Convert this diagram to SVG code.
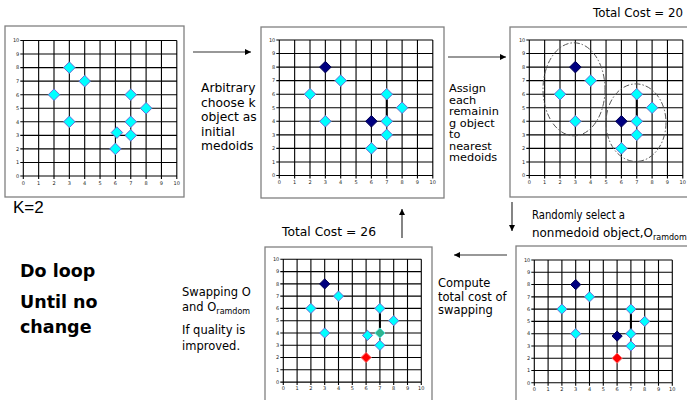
<svg xmlns="http://www.w3.org/2000/svg" xmlns:xlink="http://www.w3.org/1999/xlink" width="687" height="400" viewBox="0 0 687 400">
  <style>
    .frame { fill: #fff; stroke: #808080; stroke-width: 1.3; }
    .grid { fill: none; stroke: #000; stroke-width: 1.1; }
    .tick { font-family: "DejaVu Sans", sans-serif; font-size: 5px; fill: #222; }
    .tick .l { text-anchor: end; }
    .tick .b { text-anchor: middle; }
    .lbl { font-family: "DejaVu Sans", sans-serif; fill: #000; }
    .big { font-family: "DejaVu Sans", sans-serif; font-weight: bold; font-size: 17.5px; fill: #000; }
    .cy { fill: #00ffff; stroke: #6b6bd6; stroke-width: 1; }
    .nv { fill: #000080; stroke: #000050; stroke-width: 1; }
    .rd { fill: #ff0000; stroke: #ff7070; stroke-width: 1; }
    .tl { fill: #2fb58f; stroke: #5ee0e0; stroke-width: 1; }
    .link { stroke: #000; stroke-width: 2; }
    .clus { fill: none; stroke: #555; stroke-width: 1; stroke-dasharray: 6 2 1.5 2; }
    .flow { fill: none; stroke: #333; stroke-width: 1.2; marker-end: url(#ah); }
  </style>
  <defs>
    <marker id="ah" markerUnits="userSpaceOnUse" markerWidth="7" markerHeight="7" refX="6" refY="3" orient="auto">
      <path d="M0,0L6,3L0,6Z" fill="#000"/>
    </marker>
    <path id="dA" d="M0,-5.8L5.8,0L0,5.8L-5.8,0Z"/>
    <path id="dB" d="M0,-5.1L5.1,0L0,5.1L-5.1,0Z"/>
    <!-- 10x10 chart grid, large panels -->
    <g id="gridA">
      <path class="grid" d="M0,0V135.5M15.35,0V135.5M30.7,0V135.5M46.05,0V135.5M61.4,0V135.5M76.75,0V135.5M92.1,0V135.5M107.45,0V135.5M122.8,0V135.5M138.15,0V135.5M153.5,0V135.5
        M0,0H153.5M0,13.55H153.5M0,27.1H153.5M0,40.65H153.5M0,54.2H153.5M0,67.75H153.5M0,81.3H153.5M0,94.85H153.5M0,108.4H153.5M0,121.95H153.5M0,135.5H153.5
        M-3,0H0M-3,13.55H0M-3,27.1H0M-3,40.65H0M-3,54.2H0M-3,67.75H0M-3,81.3H0M-3,94.85H0M-3,108.4H0M-3,121.95H0M-3,135.5H0
        M0,135.5V138.5M15.35,135.5V138.5M30.7,135.5V138.5M46.05,135.5V138.5M61.4,135.5V138.5M76.75,135.5V138.5M92.1,135.5V138.5M107.45,135.5V138.5M122.8,135.5V138.5M138.15,135.5V138.5M153.5,135.5V138.5"/>
      <g class="tick">
        <text class="l" x="-4" y="1.8">10</text>
        <text class="l" x="-4" y="15.35">9</text>
        <text class="l" x="-4" y="28.9">8</text>
        <text class="l" x="-4" y="42.45">7</text>
        <text class="l" x="-4" y="56">6</text>
        <text class="l" x="-4" y="69.55">5</text>
        <text class="l" x="-4" y="83.1">4</text>
        <text class="l" x="-4" y="96.65">3</text>
        <text class="l" x="-4" y="110.2">2</text>
        <text class="l" x="-4" y="123.75">1</text>
        <text class="l" x="-4" y="137.3">0</text>
        <text class="b" x="0" y="144">0</text>
        <text class="b" x="15.35" y="144">1</text>
        <text class="b" x="30.7" y="144">2</text>
        <text class="b" x="46.05" y="144">3</text>
        <text class="b" x="61.4" y="144">4</text>
        <text class="b" x="76.75" y="144">5</text>
        <text class="b" x="92.1" y="144">6</text>
        <text class="b" x="107.45" y="144">7</text>
        <text class="b" x="122.8" y="144">8</text>
        <text class="b" x="138.15" y="144">9</text>
        <text class="b" x="153.5" y="144">10</text>
      </g>
    </g>
    <!-- 10x10 chart grid, lower panels -->
    <g id="gridB">
      <path class="grid" d="M0,0V122.8M13.8,0V122.8M27.6,0V122.8M41.4,0V122.8M55.2,0V122.8M69,0V122.8M82.8,0V122.8M96.6,0V122.8M110.4,0V122.8M124.2,0V122.8M138,0V122.8
        M0,0H138M0,12.28H138M0,24.56H138M0,36.84H138M0,49.12H138M0,61.4H138M0,73.68H138M0,85.96H138M0,98.24H138M0,110.52H138M0,122.8H138
        M-3,0H0M-3,12.28H0M-3,24.56H0M-3,36.84H0M-3,49.12H0M-3,61.4H0M-3,73.68H0M-3,85.96H0M-3,98.24H0M-3,110.52H0M-3,122.8H0
        M0,122.8V125.8M13.8,122.8V125.8M27.6,122.8V125.8M41.4,122.8V125.8M55.2,122.8V125.8M69,122.8V125.8M82.8,122.8V125.8M96.6,122.8V125.8M110.4,122.8V125.8M124.2,122.8V125.8M138,122.8V125.8"/>
      <g class="tick">
        <text class="l" x="-4" y="1.8">10</text>
        <text class="l" x="-4" y="14.08">9</text>
        <text class="l" x="-4" y="26.36">8</text>
        <text class="l" x="-4" y="38.64">7</text>
        <text class="l" x="-4" y="50.92">6</text>
        <text class="l" x="-4" y="63.2">5</text>
        <text class="l" x="-4" y="75.48">4</text>
        <text class="l" x="-4" y="87.76">3</text>
        <text class="l" x="-4" y="100.04">2</text>
        <text class="l" x="-4" y="112.32">1</text>
        <text class="l" x="-4" y="124.6">0</text>
        <text class="b" x="0" y="131">0</text>
        <text class="b" x="13.8" y="131">1</text>
        <text class="b" x="27.6" y="131">2</text>
        <text class="b" x="41.4" y="131">3</text>
        <text class="b" x="55.2" y="131">4</text>
        <text class="b" x="69" y="131">5</text>
        <text class="b" x="82.8" y="131">6</text>
        <text class="b" x="96.6" y="131">7</text>
        <text class="b" x="110.4" y="131">8</text>
        <text class="b" x="124.2" y="131">9</text>
        <text class="b" x="138" y="131">10</text>
      </g>
    </g>
  </defs>

  <rect width="687" height="400" fill="#fff"/>

  <!-- step 1: raw data points -->
  <g id="panel-data">
    <rect class="frame" x="5" y="26" width="179" height="171"/>
    <use xlink:href="#gridA" x="23.3" y="40.5"/>
    <use xlink:href="#dA" class="cy" x="69.35" y="67.6"/>
    <use xlink:href="#dA" class="cy" x="84.7" y="81.15"/>
    <use xlink:href="#dA" class="cy" x="54" y="94.7"/>
    <use xlink:href="#dA" class="cy" x="130.75" y="94.7"/>
    <use xlink:href="#dA" class="cy" x="146.1" y="108.25"/>
    <use xlink:href="#dA" class="cy" x="69.35" y="121.8"/>
    <use xlink:href="#dA" class="cy" x="130.75" y="121.8"/>
    <use xlink:href="#dA" class="cy" x="116.9" y="132.6"/>
    <use xlink:href="#dA" class="cy" x="130.75" y="135.35"/>
    <use xlink:href="#dA" class="cy" x="115.4" y="148.9"/>
    <text class="lbl" x="13" y="213" style="font-family:'Liberation Sans',sans-serif;font-size:17px">K=2</text>
  </g>

  <!-- step 2: initial medoids -->
  <g id="panel-init">
    <rect class="frame" x="261" y="27" width="183" height="171"/>
    <use xlink:href="#gridA" x="279.3" y="40"/>
    <line class="link" x1="386.75" y1="94.2" x2="386.75" y2="121.3"/>
    <use xlink:href="#dA" class="nv" x="325.35" y="67.1"/>
    <use xlink:href="#dA" class="cy" x="340.7" y="80.65"/>
    <use xlink:href="#dA" class="cy" x="310" y="94.2"/>
    <use xlink:href="#dA" class="cy" x="325.35" y="121.3"/>
    <use xlink:href="#dA" class="nv" x="371.4" y="121.3"/>
    <use xlink:href="#dA" class="cy" x="386.75" y="94.2"/>
    <use xlink:href="#dA" class="cy" x="402.1" y="107.75"/>
    <use xlink:href="#dA" class="cy" x="386.75" y="121.3"/>
    <use xlink:href="#dA" class="cy" x="386.75" y="134.85"/>
    <use xlink:href="#dA" class="cy" x="371.4" y="148.4"/>
    <text class="lbl" font-size="12.3">
      <tspan x="201" y="92">Arbitrary</tspan>
      <tspan x="201" y="106.5">choose k</tspan>
      <tspan x="201" y="121">object as</tspan>
      <tspan x="201" y="135.5">initial</tspan>
      <tspan x="201" y="150">medoids</tspan>
    </text>
  </g>

  <!-- step 3: clusters around the medoids -->
  <g id="panel-assign">
    <rect class="frame" x="510" y="27" width="182" height="170"/>
    <use xlink:href="#gridA" x="529.3" y="40"/>
    <ellipse class="clus" cx="574" cy="89.3" rx="31" ry="46.5"/>
    <ellipse class="clus" cx="636" cy="122.7" rx="30" ry="38.8"/>
    <line class="link" x1="636.75" y1="94.2" x2="636.75" y2="121.3"/>
    <use xlink:href="#dA" class="nv" x="575.35" y="67.1"/>
    <use xlink:href="#dA" class="cy" x="590.7" y="80.65"/>
    <use xlink:href="#dA" class="cy" x="560" y="94.2"/>
    <use xlink:href="#dA" class="cy" x="575.35" y="121.3"/>
    <use xlink:href="#dA" class="nv" x="621.4" y="121.3"/>
    <use xlink:href="#dA" class="cy" x="636.75" y="94.2"/>
    <use xlink:href="#dA" class="cy" x="652.1" y="107.75"/>
    <use xlink:href="#dA" class="cy" x="636.75" y="121.3"/>
    <use xlink:href="#dA" class="cy" x="636.75" y="134.85"/>
    <use xlink:href="#dA" class="cy" x="621.4" y="148.4"/>
    <text class="lbl" x="593" y="17" font-size="11.5" textLength="90" lengthAdjust="spacingAndGlyphs">Total Cost = 20</text>
    <text class="lbl" font-size="11.3">
      <tspan x="449" y="92">Assign</tspan>
      <tspan x="449" y="103.5">each</tspan>
      <tspan x="449" y="115">remainin</tspan>
      <tspan x="449" y="126.5">g object</tspan>
      <tspan x="449" y="138">to</tspan>
      <tspan x="449" y="149.5">nearest</tspan>
      <tspan x="449" y="161">medoids</tspan>
    </text>
  </g>

  <!-- step 4: random non-medoid candidate -->
  <g id="panel-select">
    <rect class="frame" x="516" y="246" width="176" height="160"/>
    <use xlink:href="#gridB" x="534.3" y="260"/>
    <line class="link" x1="630.9" y1="309.1" x2="630.9" y2="333.7"/>
    <use xlink:href="#dB" class="nv" x="575.7" y="284.6"/>
    <use xlink:href="#dB" class="cy" x="589.5" y="296.8"/>
    <use xlink:href="#dB" class="cy" x="561.9" y="309.1"/>
    <use xlink:href="#dB" class="cy" x="575.7" y="333.7"/>
    <use xlink:href="#dB" class="nv" x="617.1" y="336.1"/>
    <use xlink:href="#dB" class="cy" x="630.9" y="309.1"/>
    <use xlink:href="#dB" class="cy" x="644.7" y="321.4"/>
    <use xlink:href="#dB" class="cy" x="630.9" y="333.7"/>
    <use xlink:href="#dB" class="cy" x="630.9" y="346"/>
    <use xlink:href="#dB" class="rd" x="617.1" y="358.2"/>
    <text class="lbl" x="532" y="219" font-size="12" textLength="93" lengthAdjust="spacingAndGlyphs">Randomly select a</text>
    <text class="lbl" y="237" font-size="12"><tspan x="532" textLength="121" lengthAdjust="spacingAndGlyphs">nonmedoid object,O</tspan><tspan dy="2.5" font-size="8">ramdom</tspan></text>
  </g>

  <!-- step 5: swap and compare cost -->
  <g id="panel-swap">
    <rect class="frame" x="265" y="247" width="167" height="160"/>
    <use xlink:href="#gridB" x="283.3" y="259.3"/>
    <line class="link" x1="379.9" y1="308.4" x2="379.9" y2="333"/>
    <use xlink:href="#dB" class="nv" x="324.7" y="283.9"/>
    <use xlink:href="#dB" class="cy" x="338.5" y="296.1"/>
    <use xlink:href="#dB" class="cy" x="310.9" y="308.4"/>
    <use xlink:href="#dB" class="cy" x="324.7" y="333"/>
    <use xlink:href="#dB" class="cy" x="367.5" y="335.4"/>
    <use xlink:href="#dB" class="tl" x="379.9" y="333"/>
    <use xlink:href="#dB" class="cy" x="379.9" y="308.4"/>
    <use xlink:href="#dB" class="cy" x="393.7" y="320.7"/>
    <use xlink:href="#dB" class="cy" x="379.9" y="345.3"/>
    <use xlink:href="#dB" class="rd" x="366.1" y="357.5"/>
    <text class="lbl" x="282" y="236" font-size="11.5" textLength="94" lengthAdjust="spacingAndGlyphs">Total Cost = 26</text>
    <text class="lbl" font-size="11.5">
      <tspan x="438" y="287">Compute</tspan>
      <tspan x="438" y="300.5">total cost of</tspan>
      <tspan x="438" y="314">swapping</tspan>
    </text>
    <text class="lbl" font-size="11.5">
      <tspan x="182" y="296">Swapping O</tspan>
      <tspan x="182" y="311">and O</tspan><tspan dy="2.5" font-size="8">ramdom</tspan>
      <tspan x="182" y="334">If quality is</tspan>
      <tspan x="182" y="350">improved.</tspan>
    </text>
  </g>

  <g id="loop-note">
    <text class="big" x="20" y="277">Do loop</text>
    <text class="big" x="20" y="308">Until no</text>
    <text class="big" x="20" y="333">change</text>
  </g>

  <!-- flow between steps -->
  <g id="connectors">
    <line class="flow" x1="193" y1="52" x2="251" y2="52"/>
    <line class="flow" x1="448" y1="57" x2="506" y2="57"/>
    <line class="flow" x1="512" y1="202" x2="512" y2="231"/>
    <line class="flow" x1="507" y1="255" x2="454" y2="255"/>
    <line class="flow" x1="402" y1="238" x2="402" y2="209"/>
  </g>
</svg>
